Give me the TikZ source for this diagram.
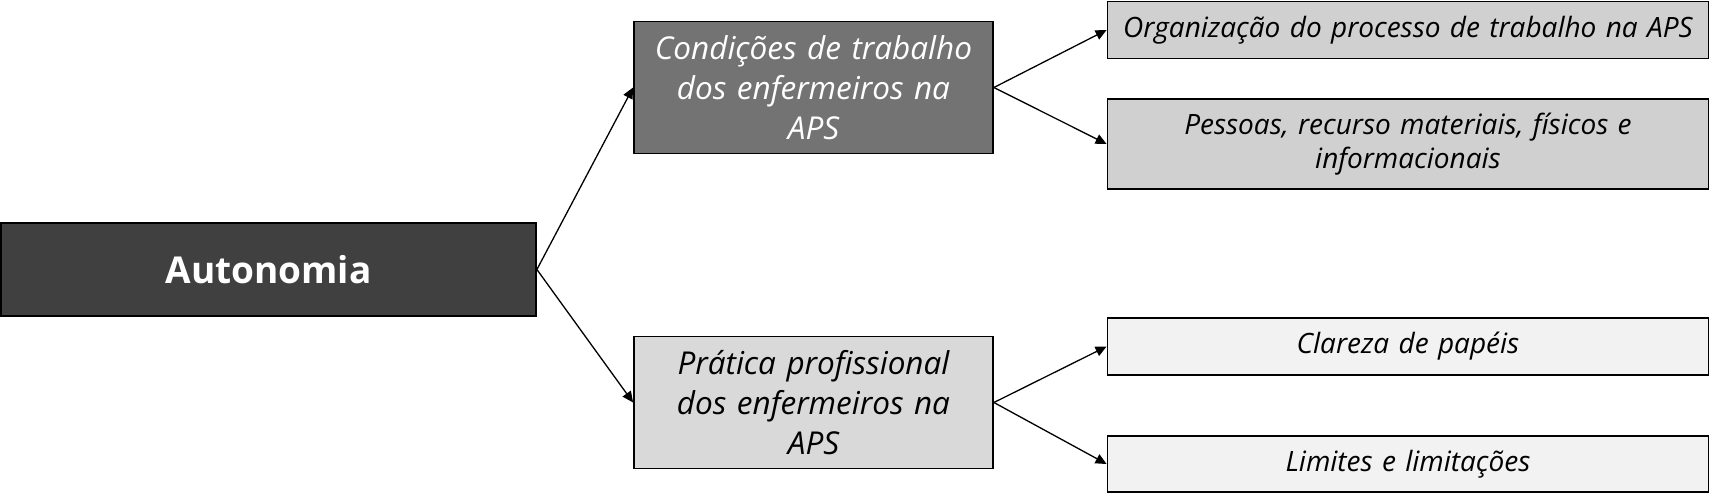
\documentclass[tikz,border=0pt]{standalone}
\usepackage{fontspec}
\setmainfont{Open Sans}
\usetikzlibrary{positioning,arrows.meta}
\definecolor{rootgray}{HTML}{404040}
\definecolor{condgray}{HTML}{737373}
\definecolor{pratgray}{HTML}{D9D9D9}
\definecolor{leafgray}{HTML}{D0D0D0}
\definecolor{palegray}{HTML}{F2F2F2}
\begin{document}
\begin{tikzpicture}[x=1pt, y=-1pt, >={Triangle[length=11pt,width=10pt]}]
\tikzset{
  box/.style={
    draw=black,
    line width=1.8pt,
    inner sep=0pt,
    align=center,
  },
  rootbox/.style={box, fill=rootgray, text=white, minimum width=535pt, minimum height=93pt,
    font=\fontsize{37}{44}\selectfont\bfseries},
  midbox/.style={box, minimum width=359pt, minimum height=132pt, text width=345pt,
    font=\fontsize{31.5}{40}\selectfont\itshape},
  leafbox/.style={box, minimum width=601pt, text width=590pt,
    font=\fontsize{28}{34}\selectfont\itshape},
  link/.style={->, line width=1.3pt}
}
\useasboundingbox (0,0) rectangle (1710,500);
\node[rootbox] (auto) at (268.5,269.5) {Autonomia};
\node[midbox, fill=condgray, text=white] (cond) at (813.5,87.5) {Condições de trabalho\\dos enfermeiros na\\APS};
\node[midbox, fill=pratgray] (prat) at (813.5,402.5) {Prática profissional\\dos enfermeiros na\\APS};
\node[leafbox, fill=leafgray, minimum height=57pt] (org) at (1408,30) {Organização do processo de trabalho na APS};
\node[leafbox, fill=leafgray, minimum height=90pt] (pes) at (1408,144) {Pessoas, recurso materiais, físicos e\\informacionais};
\node[leafbox, fill=palegray, minimum height=57pt] (cla) at (1408,346.5) {Clareza de papéis};
\node[leafbox, fill=palegray, minimum height=56pt] (lim) at (1408,464) {Limites e limitações};
\draw[link] (auto.east) -- (cond.west);
\draw[link] (auto.east) -- (prat.west);
\draw[link] (cond.east) -- (org.west);
\draw[link] (cond.east) -- (pes.west);
\draw[link] (prat.east) -- (cla.west);
\draw[link] (prat.east) -- (lim.west);
\end{tikzpicture}
\end{document}
